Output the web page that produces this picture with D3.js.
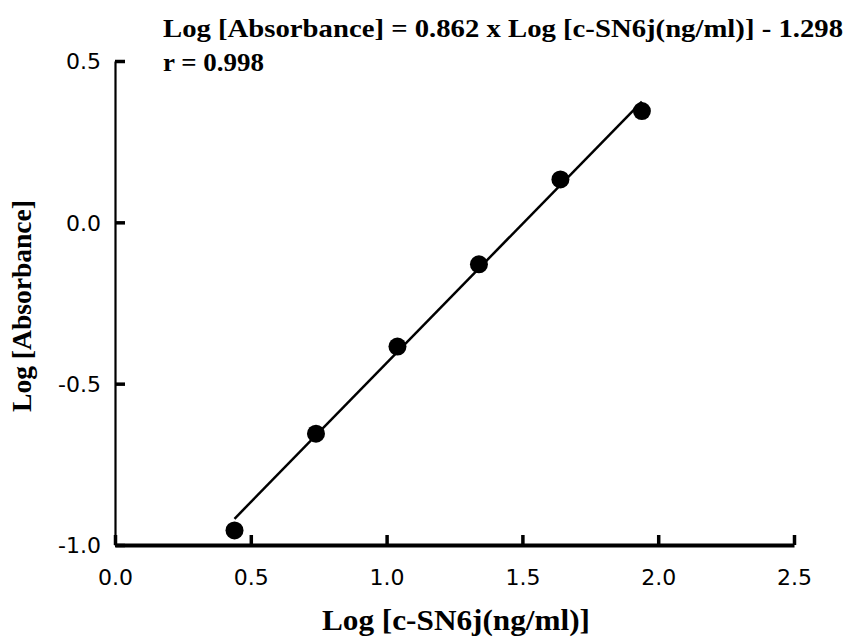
<!DOCTYPE html>
<html>
<head>
<meta charset="utf-8">
<script src="https://cdn.jsdelivr.net/npm/d3@7"></script>
<style>
  body { margin: 0; background: #fff; }
  .tick text { font-family: "DejaVu Sans", sans-serif; font-size: 22px; fill: #000; }
</style>
</head>
<body>
<div id="chart"></div>
<script>
// data
var logConc = [0.44, 0.74, 1.04, 1.34, 1.64, 1.94];
var logAbs = [-0.955, -0.655, -0.385, -0.13, 0.133, 0.345];
var slope = 0.862, intercept = -1.298;
var xTicks = [0, 0.5, 1.0, 1.5, 2.0, 2.5];
var yTicks = [-1.0, -0.5, 0.0, 0.5];
var equationText = "Log [Absorbance] = 0.862 x Log [c-SN6j(ng/ml)] - 1.298";
var rText = "r = 0.998";

var width = 846, height = 639;
var margin = {top: 61, right: 52, bottom: 94, left: 115};

var svg = d3.select("#chart").append("svg")
  .attr("width", width)
  .attr("height", height);

var x = d3.scaleLinear().domain([0, 2.5]).range([margin.left, width - margin.right]);
var y = d3.scaleLinear().domain([-1.0, 0.5]).range([height - margin.bottom, margin.top]);

// plain hyphen instead of the unicode minus d3 uses
var fmt = function(d) { return d3.format(".1f")(d).replace("\u2212", "-"); };

// y axis
var yAxis = svg.append("g")
  .attr("transform", "translate(" + margin.left + ",0)")
  .call(d3.axisLeft(y).tickValues(yTicks).tickFormat(fmt).tickSizeInner(-10).tickSizeOuter(0).tickPadding(14));
yAxis.select(".domain").attr("stroke", "#000").attr("stroke-width", 2.2);
yAxis.selectAll(".tick line").attr("stroke", "#000").attr("stroke-width", 3.5);
yAxis.selectAll(".tick text").attr("dy", "0.36em");

// x axis
var xAxis = svg.append("g")
  .attr("transform", "translate(0," + (height - margin.bottom) + ")")
  .call(d3.axisBottom(x).tickValues(xTicks).tickFormat(fmt).tickSizeInner(-10).tickSizeOuter(0).tickPadding(24));
xAxis.select(".domain").attr("stroke", "#000").attr("stroke-width", 4);
xAxis.selectAll(".tick line").attr("stroke", "#000").attr("stroke-width", 3.5);

// fitted line
var x0 = d3.min(logConc), x1 = d3.max(logConc);
svg.append("line")
  .attr("x1", x(x0)).attr("y1", y(slope * x0 + intercept))
  .attr("x2", x(x1)).attr("y2", y(slope * x1 + intercept))
  .attr("stroke", "#000")
  .attr("stroke-width", 2.5);

// points
svg.selectAll("circle.pt")
  .data(logConc)
  .enter()
  .append("circle")
    .attr("class", "pt")
    .attr("cx", function(d) { return x(d); })
    .attr("cy", function(d, i) { return y(logAbs[i]); })
    .attr("r", 9)
    .attr("fill", "#000");

// equation and r
svg.append("text")
  .attr("x", 163).attr("y", 37)
  .attr("font-family", "Liberation Serif, serif")
  .attr("font-weight", "bold")
  .attr("font-size", 25)
  .attr("textLength", 680)
  .attr("lengthAdjust", "spacingAndGlyphs")
  .text(equationText);

svg.append("text")
  .attr("x", 163).attr("y", 71)
  .attr("font-family", "Liberation Serif, serif")
  .attr("font-weight", "bold")
  .attr("font-size", 25)
  .attr("textLength", 101)
  .attr("lengthAdjust", "spacingAndGlyphs")
  .text(rText);

// axis titles
svg.append("text")
  .attr("x", 456).attr("y", 630)
  .attr("text-anchor", "middle")
  .attr("font-family", "Liberation Serif, serif")
  .attr("font-weight", "bold")
  .attr("font-size", 29)
  .attr("textLength", 268)
  .attr("lengthAdjust", "spacingAndGlyphs")
  .text("Log [c-SN6j(ng/ml)]");

svg.append("text")
  .attr("transform", "translate(31,306) rotate(-90)")
  .attr("text-anchor", "middle")
  .attr("font-family", "Liberation Serif, serif")
  .attr("font-weight", "bold")
  .attr("font-size", 27)
  .attr("textLength", 212)
  .attr("lengthAdjust", "spacingAndGlyphs")
  .text("Log [Absorbance]");
</script>
</body>
</html>
